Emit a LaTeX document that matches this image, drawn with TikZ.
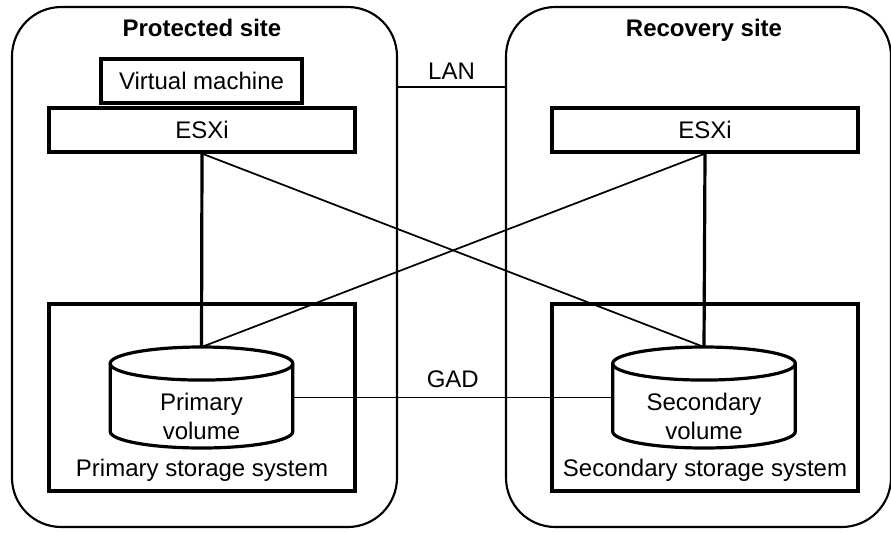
\documentclass[tikz,border=0pt]{standalone}
\usepackage{fontspec}
\setmainfont{Liberation Sans}
\usetikzlibrary{positioning}

\begin{document}
\begin{tikzpicture}
    [x=0.75pt, y=-0.75pt,
     every node/.style={font=\fontsize{18}{21.6}\selectfont},
     site/.style={draw, line width=1.6pt, rounded corners=37pt,
                  minimum width=288.75pt, minimum height=390pt},
     title/.style={font=\fontsize{18}{21.6}\selectfont\bfseries},
     box/.style={draw, line width=2.4pt, inner sep=0pt},
     vmbox/.style={box, minimum width=150.75pt, minimum height=33pt},
     esxi/.style={box, minimum width=229.5pt, minimum height=33pt},
     stor/.style={box, minimum width=229.5pt, minimum height=140.25pt},
     vol/.style={inner sep=0pt, outer sep=0pt, minimum width=137pt, minimum height=75.75pt},
     cyl/.style={draw, line width=2.4pt},
     conn/.style={draw=black, line width=1.3pt},
     thickconn/.style={draw=black, line width=2.4pt},
    ]
    \useasboundingbox (0,0) rectangle (891,532);

    % sites
    \node (psite) [site] at (204.5,267) {};
    \node (rsite) [site] at (698.5,267) {};
    \node (ptitle) [title] at (202,28) {Protected site};
    \node (rtitle) [title] at (704,30) {Recovery site};

    % hosts
    \node (vm) [vmbox] at (201.5,81) {Virtual machine};
    \node (pesx) [esxi] at (202,130) {ESXi};
    \node (resx) [esxi] at (705,130) {ESXi};

    % storage
    \node (pstor) [stor, label={[anchor=center, yshift=16.5pt]south:Primary storage system}]
        at (202,397.5) {};
    \node (rstor) [stor, label={[anchor=center, yshift=16.5pt]south:Secondary storage system}]
        at (705,397.5) {};
    \node (pvol) [vol, label={[align=center, yshift=-13.9pt]center:Primary\\volume}]
        at (201.5,397.5) {};
    \node (svol) [vol, label={[align=center, yshift=-13.9pt]center:Secondary\\volume}]
        at (704,397.5) {};

    \foreach \v in {pvol, svol} {
        \draw [cyl] ([yshift=-12.4pt]\v.north west) -- ([yshift=12.4pt]\v.south west)
            arc [start angle=180, end angle=360, x radius=68.5pt, y radius=12.4pt]
            -- ([yshift=-12.4pt]\v.north east);
        \draw [cyl] ([yshift=-12.4pt]\v.north) ellipse [x radius=68.5pt, y radius=12.4pt];
    }

    % links
    \draw [conn] ([yshift=135pt]psite.east) -- node (lan) [above=2pt] {LAN} ([yshift=135pt]rsite.west);
    \draw [conn] (pvol.east) -- node (gad) [above=3pt] {GAD} (svol.west);

    \draw [thickconn] (pesx.south) -- (pvol.north);
    \draw [thickconn] (resx.south) -- (svol.north);
    \draw [conn] (pesx.south) -- (svol.north);
    \draw [conn] (resx.south) -- (pvol.north);

\end{tikzpicture}
\end{document}
